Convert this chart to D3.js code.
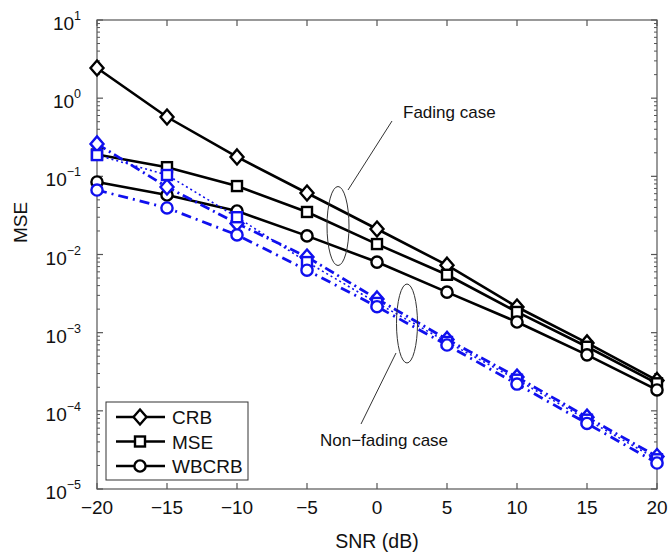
<!DOCTYPE html>
<html>
<head>
<meta charset="utf-8">
<script src="https://cdn.jsdelivr.net/npm/d3@7"></script>
<style>
  html, body { margin: 0; padding: 0; background: #fff; }
  svg { display: block; font-family: "Liberation Sans", Arial, Helvetica, sans-serif; }
</style>
</head>
<body>
<svg id="chart" width="669" height="552"></svg>
<script>
// ---- data ----
const snr = [-20, -15, -10, -5, 0, 5, 10, 15, 20];
const crbFading   = [2.43, 0.574, 0.177, 0.0612, 0.0212, 0.0073, 0.00213, 7.4e-4, 2.45e-4];
const mseFading   = [0.19, 0.131, 0.0751, 0.035, 0.0136, 0.0055, 0.00184, 6.6e-4, 2.25e-4];
const wbcrbFading = [0.0847, 0.0577, 0.036, 0.0173, 0.0080, 0.0033, 0.00137, 5.2e-4, 1.85e-4];
const crbNonFading   = [0.26, 0.073, 0.025, 0.0093, 0.0027, 8.2e-4, 2.7e-4, 8.3e-5, 2.6e-5];
const mseNonFading   = [0.187, 0.104, 0.030, 0.0080, 0.0024, 7.6e-4, 2.5e-4, 7.7e-5, 2.4e-5];
const wbcrbNonFading = [0.0668, 0.0394, 0.0178, 0.0063, 0.00215, 6.95e-4, 2.2e-4, 6.9e-5, 2.15e-5];
const xTicks = [-20, -15, -10, -5, 0, 5, 10, 15, 20];
const yTickExps = [1, 0, -1, -2, -3, -4, -5];
const legendLabels = ["CRB", "MSE", "WBCRB"];
const annotations = ["Fading case", "Non\u2212fading case"];

// ---- layout ----
const svg = d3.select("#chart");
const L = 97, R = 657, T = 20, B = 489;
const x = d3.scaleLinear().domain([-20, 20]).range([L, R]);
const y = d3.scaleLog().domain([1e-5, 10]).range([B, T]);
const axisColor = "#555";

// axes frame
svg.append("rect").attr("x", L).attr("y", T).attr("width", R - L).attr("height", B - T)
  .attr("fill", "none").attr("stroke", axisColor).attr("stroke-width", 1.2);

// x ticks (bottom and top, inward)
xTicks.forEach(t => {
  svg.append("line").attr("x1", x(t)).attr("x2", x(t)).attr("y1", B).attr("y2", B - 6)
    .attr("stroke", axisColor).attr("stroke-width", 1.2);
  svg.append("line").attr("x1", x(t)).attr("x2", x(t)).attr("y1", T).attr("y2", T + 6)
    .attr("stroke", axisColor).attr("stroke-width", 1.2);
  svg.append("text").attr("x", x(t)).attr("y", B + 25).attr("text-anchor", "middle")
    .attr("font-size", 19).attr("fill", "#111")
    .text(t < 0 ? "\u2212" + Math.abs(t) : String(t));
});

// y ticks major + minor
const minor = [];
for (let e = -5; e < 1; e++) for (let m = 2; m <= 9; m++) minor.push(m * Math.pow(10, e));
minor.forEach(v => {
  [[L, L + 3], [R, R - 3]].forEach(([a, b]) => {
    svg.append("line").attr("x1", a).attr("x2", b).attr("y1", y(v)).attr("y2", y(v))
      .attr("stroke", axisColor).attr("stroke-width", 1);
  });
});
yTickExps.forEach(e => {
  const v = Math.pow(10, e);
  [[L, L + 6], [R, R - 6]].forEach(([a, b]) => {
    svg.append("line").attr("x1", a).attr("x2", b).attr("y1", y(v)).attr("y2", y(v))
      .attr("stroke", axisColor).attr("stroke-width", 1.2);
  });
  const txt = svg.append("text").attr("x", 81).attr("y", y(v) + 10)
    .attr("text-anchor", "end").attr("font-size", 19).attr("fill", "#111");
  txt.append("tspan").text("10");
  txt.append("tspan").attr("dy", -10).attr("font-size", 12.5)
    .text(e < 0 ? "\u2212" + Math.abs(e) : String(e));
});

// axis labels
svg.append("text").attr("x", (L + R) / 2).attr("y", 548).attr("text-anchor", "middle")
  .attr("font-size", 19.5).attr("fill", "#111").text("SNR (dB)");
svg.append("text").attr("transform", "translate(27," + ((T + B) / 2 - 32) + ") rotate(-90)")
  .attr("text-anchor", "middle").attr("font-size", 19).attr("fill", "#111").text("MSE");

// ---- series ----
const series = [
  { vals: crbFading,   color: "#000", dash: null, width: 2.6, marker: "diamond" },
  { vals: mseFading,   color: "#000", dash: null, width: 2.6, marker: "square" },
  { vals: wbcrbFading, color: "#000", dash: null, width: 2.6, marker: "circle" },
  { vals: crbNonFading,   color: "#1010ee", dash: "10,4,2,4", width: 2.8, marker: "diamond" },
  { vals: mseNonFading,   color: "#1010ee", dash: "2,3", width: 1.6, marker: "square" },
  { vals: wbcrbNonFading, color: "#1010ee", dash: "10,5,2,5", width: 2.8, marker: "circle" }
];
const line = d3.line().x((d, i) => x(snr[i])).y(d => y(d));

function drawMarker(g, type, cx, cy, color) {
  if (type === "diamond") {
    g.append("path").attr("d", `M${cx},${cy - 7.5}L${cx + 6.5},${cy}L${cx},${cy + 7.5}L${cx - 6.5},${cy}Z`)
      .attr("fill", "#fff").attr("stroke", color).attr("stroke-width", 2.4);
  } else if (type === "square") {
    g.append("rect").attr("x", cx - 5).attr("y", cy - 5).attr("width", 10).attr("height", 10)
      .attr("fill", "#fff").attr("stroke", color).attr("stroke-width", 2.4);
  } else {
    g.append("circle").attr("cx", cx).attr("cy", cy).attr("r", 5.6)
      .attr("fill", "#fff").attr("stroke", color).attr("stroke-width", 2.4);
  }
}

series.forEach(s => {
  svg.append("path").datum(s.vals).attr("d", line).attr("fill", "none")
    .attr("stroke", s.color).attr("stroke-width", s.width)
    .attr("stroke-dasharray", s.dash);
});
series.forEach(s => {
  const g = svg.append("g");
  s.vals.forEach((v, i) => drawMarker(g, s.marker, x(snr[i]), y(v), s.color));
});

// ---- annotations ----
svg.append("ellipse").attr("cx", 338).attr("cy", 226).attr("rx", 11).attr("ry", 39.5)
  .attr("fill", "none").attr("stroke", "#333").attr("stroke-width", 1);
svg.append("line").attr("x1", 348).attr("y1", 190).attr("x2", 392).attr("y2", 121)
  .attr("stroke", "#333").attr("stroke-width", 1);
svg.append("text").attr("x", 403).attr("y", 118).attr("font-size", 17).attr("fill", "#111")
  .text(annotations[0]);

svg.append("ellipse").attr("cx", 407).attr("cy", 323.5).attr("rx", 10.5).attr("ry", 39.5)
  .attr("fill", "none").attr("stroke", "#333").attr("stroke-width", 1);
svg.append("line").attr("x1", 396).attr("y1", 353).attr("x2", 361).attr("y2", 424)
  .attr("stroke", "#333").attr("stroke-width", 1);
svg.append("text").attr("x", 320).attr("y", 446).attr("font-size", 17).attr("fill", "#111")
  .text(annotations[1]);

// ---- legend ----
const lg = svg.append("g");
lg.append("rect").attr("x", 106).attr("y", 402).attr("width", 142).attr("height", 78)
  .attr("fill", "#fff").attr("stroke", "#333").attr("stroke-width", 1);
const legendMarkers = ["diamond", "square", "circle"];
legendLabels.forEach((lab, i) => {
  const ly = 417 + i * 24.5;
  lg.append("line").attr("x1", 116).attr("x2", 165).attr("y1", ly).attr("y2", ly)
    .attr("stroke", "#000").attr("stroke-width", 2.6);
  drawMarker(lg, legendMarkers[i], 140, ly, "#000");
  lg.append("text").attr("x", 172).attr("y", ly + 7).attr("font-size", 19).attr("fill", "#111").text(lab);
});
</script>
</body>
</html>
